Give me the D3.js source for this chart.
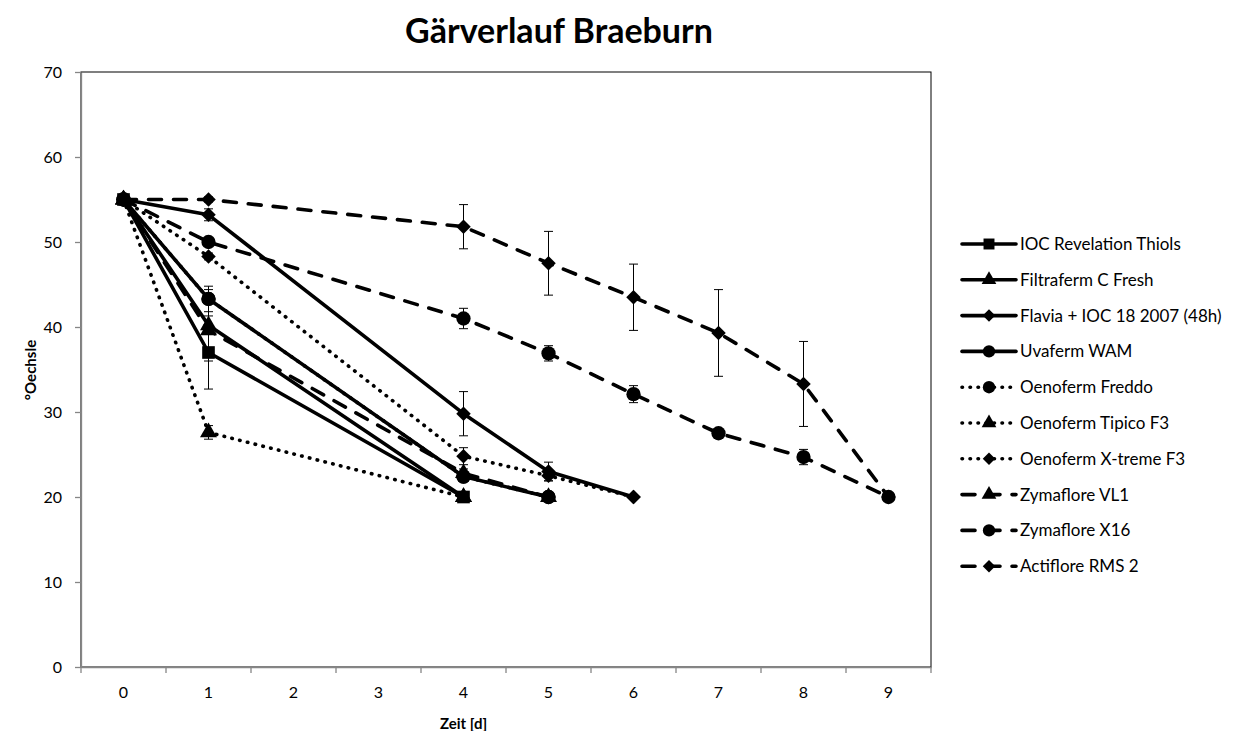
<!DOCTYPE html>
<html lang="de">
<head>
<meta charset="UTF-8"/>
<title>Gärverlauf Braeburn</title>
<script src="https://d3js.org/d3.v7.min.js"></script>
<style>
    body { margin: 0; background: white; }
    text { font-family: Lato, "Open Sans", sans-serif; fill: black; }
</style>
</head>
<body>
<script>
    // Categories (days) and tick labels
    var days = [0, 1, 2, 3, 4, 5, 6, 7, 8, 9];
    var yTicks = [0, 10, 20, 30, 40, 50, 60, 70];

    var names = ["IOC Revelation Thiols", "Filtraferm C Fresh", "Flavia + IOC 18 2007 (48h)",
                 "Uvaferm WAM", "Oenoferm Freddo", "Oenoferm Tipico F3", "Oenoferm X-treme F3",
                 "Zymaflore VL1", "Zymaflore X16", "Actiflore RMS 2"];

    // °Oechsle per day (null = not measured)
    var iocThiols  = [55, 37.0, null, null, 20.0, null, null, null, null, null];
    var filtraferm = [55, 40.2, null, null, 20.0, null, null, null, null, null];
    var flavia     = [55, 53.2, null, null, 29.8, 23.0, 20.0, null, null, null];
    var uvaferm    = [55, 43.3, null, null, 22.4, 20.0, null, null, null, null];
    var freddo     = [55, 43.3, null, null, 22.4, 20.0, null, null, null, null];
    var tipico     = [55, 27.6, null, null, 20.0, null, null, null, null, null];
    var xtreme     = [55, 48.3, null, null, 24.8, 22.5, 20.0, null, null, null];
    var vl1        = [55, 39.6, null, null, 22.8, 20.0, null, null, null, null];
    var x16        = [55, 50.0, null, null, 41.0, 36.9, 32.1, 27.5, 24.7, 20.0];
    var actiflore  = [55, 55.0, null, null, 51.8, 47.5, 43.5, 39.3, 33.3, 20.0];

    // standard deviations
    var iocThiolsErr  = [0, 4.3, 0, 0, 0, 0, 0, 0, 0, 0];
    var filtrafermErr = [0, 4.2, 0, 0, 0, 0, 0, 0, 0, 0];
    var flaviaErr     = [0, 0.7, 0, 0, 2.6, 1.1, 0, 0, 0, 0];
    var uvafermErr    = [0, 1.5, 0, 0, 0.5, 0, 0, 0, 0, 0];
    var freddoErr     = [0, 0, 0, 0, 0, 0, 0, 0, 0, 0];
    var tipicoErr     = [0, 0.8, 0, 0, 0, 0, 0, 0, 0, 0];
    var xtremeErr     = [0, 0.4, 0, 0, 1.0, 0.6, 0, 0, 0, 0];
    var vl1Err        = [0, 0.4, 0, 0, 0.5, 0, 0, 0, 0, 0];
    var x16Err        = [0, 0, 0, 0, 1.2, 0.9, 1.0, 0.2, 0.9, 0];
    var actifloreErr  = [0, 0.3, 0, 0, 2.6, 3.75, 3.9, 5.1, 5.0, 0];

    var values = [iocThiols, filtraferm, flavia, uvaferm, freddo, tipico, xtreme, vl1, x16, actiflore];
    var errors = [iocThiolsErr, filtrafermErr, flaviaErr, uvafermErr, freddoErr, tipicoErr, xtremeErr, vl1Err, x16Err, actifloreErr];
    var dashes = ["solid", "solid", "solid", "solid", "dot", "dot", "dot", "dash", "dash", "dash"];
    var marks  = ["square", "triangle", "diamond", "circle", "circle", "triangle", "diamond", "triangle", "circle", "diamond"];

    var W = 1234, H = 731;
    var margin = { top: 72, left: 81 };
    var pw = 850, ph = 595;

    var svg = d3.select("body")
                .append("svg")
                .attr("width", W)
                .attr("height", H);

    var xScale = d3.scaleBand()
                   .domain(days)
                   .range([margin.left, margin.left + pw]);

    var yScale = d3.scaleLinear()
                   .domain([0, 70])
                   .range([margin.top + ph, margin.top]);

    function cx(d) { return xScale(d) + xScale.bandwidth() / 2; }

    function markerPath(type, s) {
        if (type == "square") return d3.symbol().type(d3.symbolSquare).size(160 * s)();
        if (type == "circle") return d3.symbol().type(d3.symbolCircle).size(160 * s)();
        if (type == "triangle") return d3.symbol().type(d3.symbolTriangle).size(125 * s)();
        return d3.symbol().type(d3.symbolSquare).size(105 * s)();
    }
    function markerRot(type) { return type == "diamond" ? " rotate(45)" : ""; }

    function dashArray(t) {
        if (t == "dot") return "0.5 7.5";
        if (t == "dash") return "13 12";
        return null;
    }

    // Plot area border
    svg.append("rect")
       .attr("x", margin.left)
       .attr("y", margin.top)
       .attr("width", pw)
       .attr("height", ph)
       .attr("fill", "none")
       .attr("stroke", "black")
       .attr("stroke-width", 1);

    // Y axis
    var yAxis = svg.append("g")
       .attr("transform", "translate(" + margin.left + ",0)")
       .call(d3.axisLeft(yScale).tickValues(yTicks).tickSize(6).tickPadding(13).tickSizeOuter(0));
    yAxis.selectAll("text").style("font-size", "16px").style("font-family", "Lato");
    yAxis.selectAll("line, path").attr("stroke", "#868686").attr("stroke-width", 1.3);

    // X axis: labels at category centers, ticks on category borders
    var xAxis = svg.append("g")
       .attr("transform", "translate(0," + (margin.top + ph) + ")")
       .call(d3.axisBottom(xScale).tickSize(0).tickPadding(20));
    xAxis.selectAll("text").style("font-size", "16px").style("font-family", "Lato");
    xAxis.select("path").attr("stroke", "#868686").attr("stroke-width", 1.3);
    xAxis.selectAll(".border-tick")
        .data(days.concat([10]))
        .enter()
        .append("line")
        .attr("x1", function(d) { return d < 10 ? xScale(d) : margin.left + pw; })
        .attr("x2", function(d) { return d < 10 ? xScale(d) : margin.left + pw; })
        .attr("y1", 0)
        .attr("y2", 6)
        .attr("stroke", "#868686")
        .attr("stroke-width", 1.3);

    // Series
    var line = d3.line()
                 .x(function(d) { return cx(d.day); })
                 .y(function(d) { return yScale(d.v); });

    values.forEach(function(vals, i) {
        var pts = [];
        vals.forEach(function(v, j) {
            if (v !== null) pts.push({ day: days[j], v: v, e: errors[i][j] });
        });
        var g = svg.append("g");

        // error bars
        pts.filter(function(p) { return p.e > 0; }).forEach(function(p) {
            var x = cx(p.day);
            g.append("line")
             .attr("x1", x).attr("x2", x)
             .attr("y1", yScale(p.v + p.e)).attr("y2", yScale(p.v - p.e))
             .attr("stroke", "black").attr("stroke-width", 1);
            [p.v + p.e, p.v - p.e].forEach(function(ev) {
                g.append("line")
                 .attr("x1", x - 4.5).attr("x2", x + 4.5)
                 .attr("y1", yScale(ev)).attr("y2", yScale(ev))
                 .attr("stroke", "black").attr("stroke-width", 1);
            });
        });

        g.append("path")
         .datum(pts)
         .attr("d", line)
         .attr("fill", "none")
         .attr("stroke", "black")
         .attr("stroke-width", 3.6)
         .attr("stroke-linecap", "round")
         .attr("stroke-linejoin", "round")
         .attr("stroke-dasharray", dashArray(dashes[i]));

        g.selectAll(".mk")
         .data(pts)
         .enter()
         .append("path")
         .attr("d", markerPath(marks[i], 1))
         .attr("transform", function(d) {
             return "translate(" + cx(d.day) + "," + yScale(d.v) + ")" + markerRot(marks[i]);
         })
         .attr("fill", "black");
    });

    // Legend
    var legend = svg.append("g").attr("transform", "translate(962,244)");
    names.forEach(function(n, i) {
        var row = legend.append("g").attr("transform", "translate(0," + (i * 35.8) + ")");
        row.append("line")
           .attr("x1", 0).attr("x2", 54)
           .attr("y1", 0).attr("y2", 0)
           .attr("stroke", "black")
           .attr("stroke-width", 3.6)
           .attr("stroke-linecap", "round")
           .attr("stroke-dasharray", dashArray(dashes[i]));
        row.append("path")
           .attr("d", markerPath(marks[i], 0.75))
           .attr("transform", "translate(27,0)" + markerRot(marks[i]))
           .attr("fill", "black");
        row.append("text")
           .attr("x", 58)
           .attr("y", 6)
           .style("font-size", "17px")
           .text(n);
    });

    // Titles
    svg.append("text")
       .attr("x", 559)
       .attr("y", 43)
       .attr("text-anchor", "middle")
       .style("font-size", "34px")
       .style("font-weight", "bold")
       .text("Gärverlauf Braeburn");

    svg.append("text")
       .attr("x", cx(4))
       .attr("y", 729)
       .attr("text-anchor", "middle")
       .style("font-size", "15px")
       .style("font-weight", "bold")
       .text("Zeit [d]");

    svg.append("text")
       .attr("transform", "translate(36,370) rotate(-90)")
       .attr("text-anchor", "middle")
       .style("font-size", "15px")
       .style("font-weight", "bold")
       .text("°Oechsle");
</script>
</body>
</html>
